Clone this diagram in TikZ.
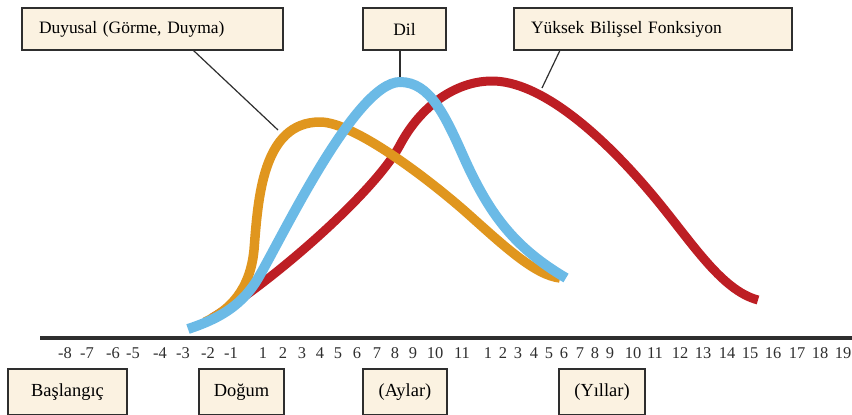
\documentclass[tikz,border=0pt]{standalone}
\usepackage{fontspec}
\setmainfont{Liberation Serif}
\usetikzlibrary{calc}
\definecolor{boxfill}{HTML}{FBF2E1}
\definecolor{sensecol}{HTML}{E0961E}
\definecolor{langcol}{HTML}{6BBAE6}
\definecolor{cogcol}{HTML}{BD1E24}
\definecolor{ink}{HTML}{2E2E2E}
\begin{document}
\begin{tikzpicture}[x=1bp,y=-1bp,
  lbl/.style={draw=ink, line width=1.6bp, fill=boxfill,
    font=\fontsize{17.5}{20}\selectfont, inner ysep=0pt,
    minimum height=42bp, outer sep=0pt},
  era/.style={lbl, font=\fontsize{18.5}{21}\selectfont, minimum height=46bp, anchor=north},
  curve/.style={line width=#1, line cap=butt, line join=round},
  leader/.style={draw=ink, line width=1.2bp},
  ticklabel/.style={font=\fontsize{16.5}{19}\selectfont, inner sep=0pt, text=ink}]
\useasboundingbox (0,0) rectangle (852,414);
\clip (0,0) rectangle (852,414);

% legend boxes along the top
\node[lbl, anchor=west, text width=227bp, inner xsep=17bp, align=left] (sens) at (22,29) {Duyusal (Görme, Duyma)};
\node[lbl, minimum width=83bp] (lang) at (404.5,29) {Dil};
\node[lbl, anchor=west, text width=244bp, inner xsep=17bp, align=left] (cog) at (514,29) {Yüksek Bilişsel Fonksiyon};

% points where the leader lines meet the curves
\coordinate (sensTip) at (278,130);
\coordinate (langTip) at (400,77);
\coordinate (cogTip) at (542,88);

\draw[leader] ($(sens.south west)!0.655!(sens.south east)$) -- (sensTip);
\draw[leader] (langTip |- lang.south) -- (langTip);
\draw[leader] ($(cog.south west)!0.166!(cog.south east)$) -- (cogTip);

% developmental curves: higher cognition, sensory, language
\draw[curve=9bp, cogcol] (212,318)
  .. controls (272,282) and (375,192) .. (400,145)
  .. controls (420,107) and (455,81) .. (492,81)
  .. controls (540,81) and (600,133) .. (650,192)
  .. controls (690,239) and (720,290) .. (758,300);
\draw[curve=9.5bp, sensecol] (205,322)
  .. controls (230,310) and (250,290) .. (254,250)
  .. controls (258,200) and (262,122) .. (320,122)
  .. controls (355,122) and (432,182) .. (467,213)
  .. controls (505,247) and (535,275) .. (560,278);
\draw[curve=10bp, langcol] (188,329)
  .. controls (215,320) and (240,308) .. (257,280)
  .. controls (280,242) and (355,82) .. (400,82)
  .. controls (430,82) and (445,115) .. (465,160)
  .. controls (490,215) and (515,248) .. (566,278);

% time axis
\coordinate (axisL) at (40,338);
\coordinate (axisR) at (852,338);
\draw[line width=3.5bp, ink] (axisL) -- (axisR);

\foreach \px/\lab [count=\k] in {65/-8, 87/-7, 113/-6, 133/-5, 160/-4, 183/-3, 208/-2, 231/-1,
  263/1, 283/2, 302/3, 320/4, 338/5, 357/6, 377/7, 395/8, 413/9, 435/10, 462/11,
  488/1, 503/2, 518/3, 534/4, 549/5, 564/6, 580/7, 595/8, 610/9, 633/10, 655/11,
  680/12, 703/13, 727/14, 750/15, 773/16, 797/17, 820/18, 843/19}
  \node[ticklabel] (t\k) at (\px,353) {\lab};

% period boxes along the bottom
\node[era, minimum width=119bp] (onset) at (67.5,369) {Başlangıç};
\node[era, minimum width=85bp] (birth) at (241.5,369) {Doğum};
\node[era, minimum width=84bp] (months) at (405,369) {(Aylar)};
\node[era, minimum width=86bp] (years) at (602,369) {(Yıllar)};
\end{tikzpicture}
\end{document}
